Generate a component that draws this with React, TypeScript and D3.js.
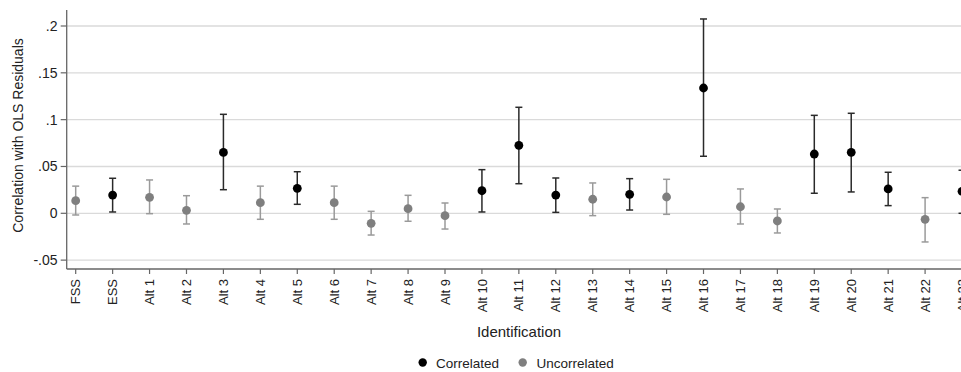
import React from "react";
import * as d3 from "d3";

const categories = ["FSS","ESS","Alt 1","Alt 2","Alt 3","Alt 4","Alt 5","Alt 6","Alt 7","Alt 8","Alt 9","Alt 10","Alt 11","Alt 12","Alt 13","Alt 14","Alt 15","Alt 16","Alt 17","Alt 18","Alt 19","Alt 20","Alt 21","Alt 22","Alt 23"];
const estimates = [0.0135,0.0195,0.0171,0.0032,0.065,0.0113,0.0267,0.0113,-0.0107,0.0049,-0.0025,0.0241,0.0726,0.0195,0.015,0.0203,0.0174,0.1338,0.007,-0.0082,0.0633,0.0651,0.026,-0.0064,0.0235];
const upper = [0.029,0.0374,0.0356,0.0188,0.1057,0.029,0.0444,0.029,0.0021,0.0192,0.011,0.0466,0.1132,0.0377,0.0324,0.037,0.0363,0.2075,0.026,0.0046,0.1046,0.1068,0.0438,0.0167,0.046];
const lower = [-0.0018,0.0014,-0.0004,-0.0114,0.0252,-0.0064,0.0096,-0.0064,-0.0232,-0.0085,-0.0168,0.0014,0.0316,0.001,-0.0025,0.0035,-0.0011,0.0609,-0.0114,-0.021,0.0214,0.0228,0.0082,-0.0306,0.0];
const correlated = [false,true,false,false,true,false,true,false,false,false,false,true,true,true,false,true,false,true,false,false,true,true,true,false,true];
const yTicks = [-0.05,0,0.05,0.1,0.15,0.2];
const yTickLabels = ["-.05","0",".05",".1",".15",".2"];

const W = 961, H = 372;
const FONT = "'Liberation Sans', Arial, Helvetica, sans-serif";
const BLACK = "#000000";
const GRAY = "#7f7f7f";
const BAR_BLACK = "#2a2a2a";
const BAR_GRAY = "#9a9a9a";

export default function App() {
  const y = d3.scaleLinear().domain([0, 0.2]).range([213.3, 26]);
  const x = d3.scalePoint<string>().domain(categories).range([75.7, 75.7 + 24 * 36.93]);
  const axisX = 66.7;
  const axisTop = 10;
  const axisBottom = 269;
  const cap = 3.5;

  return (
    <svg width={W} height={H} style={{ position: "absolute", left: 0, top: 0, background: "#fff" }} fontFamily={FONT}>
      <rect x={0} y={0} width={W} height={H} fill="#fff" />
      {/* gridlines */}
      {yTicks.map((t) => (
        <line key={"g" + t} x1={axisX} x2={W} y1={y(t)} y2={y(t)} stroke="#dadada" strokeWidth={1.3} />
      ))}
      {/* y axis */}
      <line x1={axisX} x2={axisX} y1={axisTop} y2={axisBottom} stroke="#666" strokeWidth={1.3} />
      {yTicks.map((t, i) => (
        <g key={"yt" + t}>
          <line x1={axisX - 6} x2={axisX} y1={y(t)} y2={y(t)} stroke="#666" strokeWidth={1.2} />
          <text x={57.5} y={y(t)} dy="0.35em" textAnchor="end" fontSize={14} fill="#222">{yTickLabels[i]}</text>
        </g>
      ))}
      {/* x axis */}
      <line x1={axisX} x2={W} y1={axisBottom} y2={axisBottom} stroke="#666" strokeWidth={1.3} />
      {categories.map((c) => (
        <g key={"xt" + c}>
          <line x1={x(c)} x2={x(c)} y1={axisBottom} y2={axisBottom + 5} stroke="#666" strokeWidth={1.2} />
          <text transform={`translate(${(x(c) as number) + 4.6},${279}) rotate(-90)`} textAnchor="end" fontSize={13} fill="#222">{c}</text>
        </g>
      ))}
      {/* error bars and points */}
      {categories.map((c, i) => {
        const cx = x(c) as number;
        const col = correlated[i] ? BAR_BLACK : BAR_GRAY;
        return (
          <g key={"p" + c}>
            <line x1={cx} x2={cx} y1={y(lower[i])} y2={y(upper[i])} stroke={col} strokeWidth={1.5} />
            <line x1={cx - cap} x2={cx + cap} y1={y(lower[i])} y2={y(lower[i])} stroke={col} strokeWidth={1.5} />
            <line x1={cx - cap} x2={cx + cap} y1={y(upper[i])} y2={y(upper[i])} stroke={col} strokeWidth={1.5} />
            <circle cx={cx} cy={y(estimates[i])} r={4.4} fill={correlated[i] ? BLACK : GRAY} />
          </g>
        );
      })}
      {/* axis titles */}
      <text transform={`translate(22.5,135.5) rotate(-90)`} textAnchor="middle" fontSize={14} fill="#222">Correlation with OLS Residuals</text>
      <text x={519} y={337} textAnchor="middle" fontSize={15} fill="#222">Identification</text>
      {/* legend */}
      <circle cx={422.7} cy={362.5} r={4.2} fill={BLACK} />
      <text x={436} y={363} dy="0.35em" fontSize={13.5} fill="#222">Correlated</text>
      <circle cx={522.7} cy={362.5} r={4.2} fill={GRAY} />
      <text x={536.5} y={363} dy="0.35em" fontSize={13.5} fill="#222">Uncorrelated</text>
    </svg>
  );
}
